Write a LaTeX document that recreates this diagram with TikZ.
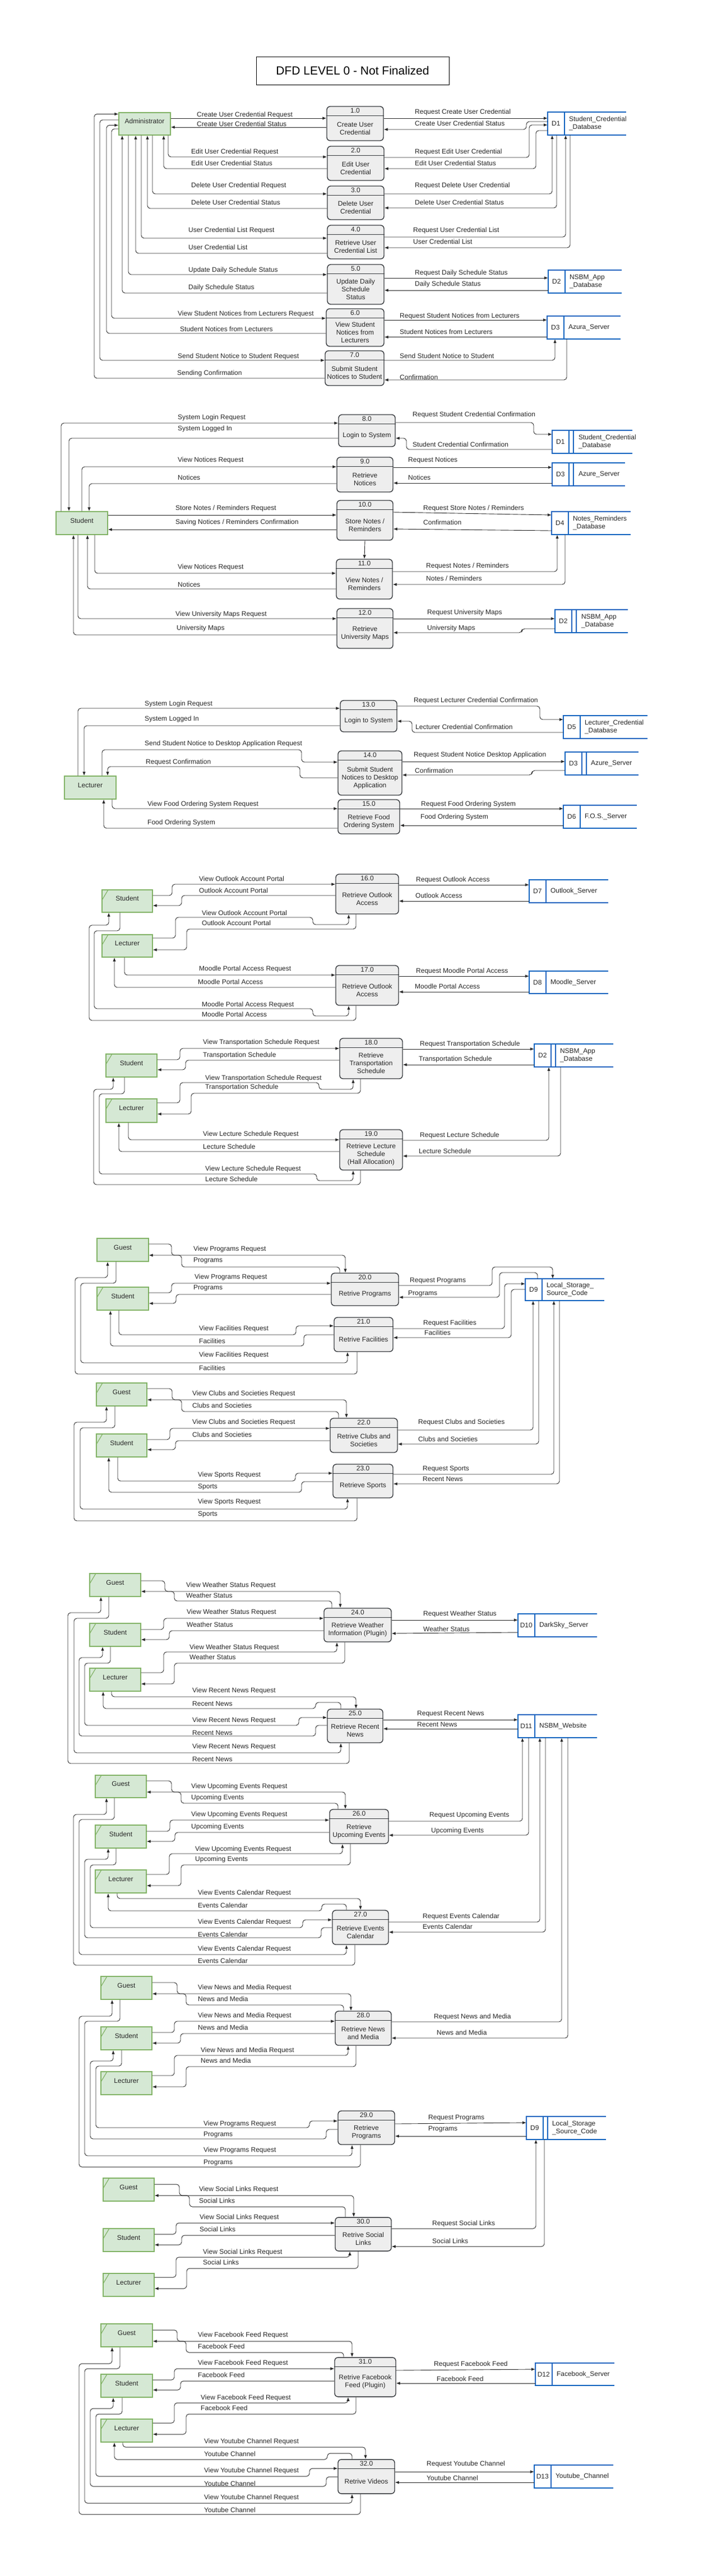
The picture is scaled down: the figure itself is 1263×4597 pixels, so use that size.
\documentclass[tikz,border=0pt]{standalone}
\usepackage{fontspec}
\setmainfont{Liberation Sans}
\usepackage{tikz}
\usetikzlibrary{arrows.meta,fit}
\definecolor{procfill}{HTML}{EEEEEE}
\definecolor{procdraw}{HTML}{36393D}
\definecolor{entfill}{HTML}{D5E8D4}
\definecolor{entdraw}{HTML}{82B366}
\definecolor{storeblue}{HTML}{1565C0}
\tikzstyle{titlebox}=[draw=black, line width=1pt, minimum width=344pt, minimum height=50pt, font=\fontsize{21}{25}\selectfont]
\tikzstyle{process}=[draw=procdraw, fill=procfill, line width=1.4pt, rounded corners=6pt, inner sep=0pt]
\tikzstyle{procline}=[draw=procdraw, line width=1.4pt]
\tikzstyle{proctext}=[font=\fontsize{12}{14}\selectfont, align=center, inner sep=0pt, text=black!85]
\tikzstyle{entity}=[draw=entdraw, fill=entfill, line width=1.4pt, inner sep=0pt, font=\fontsize{12}{14}\selectfont, text=black!85]
\tikzstyle{fold}=[draw=entdraw, line width=1.2pt]
\tikzstyle{store}=[draw=none, inner sep=0pt]
\tikzstyle{storeline}=[draw=storeblue, line width=1.8pt]
\tikzstyle{storetext}=[font=\fontsize{12}{14}\selectfont, align=left, inner sep=0pt, text=black!85]
\tikzstyle{flow}=[draw=black!85, line width=0.9pt, -{Latex[length=7pt,width=5.5pt]}, rounded corners=5pt]
\tikzstyle{lbl}=[font=\fontsize{12}{14}\selectfont, anchor=west, inner sep=0pt, text=black!85]

\begin{document}
\begin{tikzpicture}[x=1pt, y=-1pt]
    \useasboundingbox (0,0) rectangle (1263,4597);
    \node[titlebox] (title) at (629,126) {DFD LEVEL 0 - Not Finalized};

    % First we draw the processes
    \foreach \name/\xa/\ya/\xb/\yb/\num/\txt in {
        p1/583/190/684/251/1.0/{Create User\\Credential},
        p2/584/261/685/322/2.0/{Edit User\\Credential},
        p3/584/332/685/392/3.0/{Delete User\\Credential},
        p4/584/402/685/462/4.0/{Retrieve User\\Credential List},
        p5/584/472/685/543/5.0/{Update Daily\\Schedule\\Status},
        p6/582/551/685/618/6.0/{View Student\\Notices from\\Lecturers},
        p7/580/626/685/688/7.0/{Submit Student\\Notices to Student},
        p8/604/740/705/797/8.0/{Login to System},
        p9/601/816/701/878/9.0/{Retrieve\\Notices},
        p10/601/893/701/964/10.0/{Store Notes /\\Reminders},
        p11/600/998/700/1069/11.0/{View Notes /\\Reminders},
        p12/601/1086/701/1157/12.0/{Retrieve\\University Maps},
        p13/607/1250/708/1306/13.0/{Login to System},
        p14/603/1340/717/1419/14.0/{Submit Student\\Notices to Desktop\\Application},
        p15/603/1427/713/1488/15.0/{Retrieve Food\\Ordering System},
        p16/599/1560/711/1631/16.0/{Retrieve Outlook\\Access},
        p17/599/1723/711/1794/17.0/{Retrieve Outlook\\Access},
        p18/606/1853/718/1925/18.0/{Retrieve\\Transportation\\Schedule},
        p19/606/2016/718/2088/19.0/{Retrieve Lecture\\Schedule\\(Hall Allocation)},
        p20/591/2272/711/2330/20.0/{Retrive Programs},
        p21/596/2351/701/2412/21.0/{Retrive Facilities},
        p22/589/2531/709/2592/22.0/{Retrive Clubs and\\Societies},
        p23/594/2613/701/2673/23.0/{Retrieve Sports},
        p24/578/2870/698/2930/24.0/{Retrieve Weather\\Information (Plugin)},
        p25/584/3050/683/3110/25.0/{Retrieve Recent\\News},
        p26/588/3229/693/3290/26.0/{Retrieve\\Upcoming Events},
        p27/593/3409/693/3470/27.0/{Retrieve Events\\Calendar},
        p28/598/3589/698/3650/28.0/{Retrieve News\\and Media},
        p29/603/3767/704/3827/29.0/{Retrieve\\Programs},
        p30/598/3957/698/4017/30.0/{Retrive Social\\Links},
        p31/597/4207/706/4277/31.0/{Retrive Facebook\\Feed (Plugin)},
        p32/603/4389/704/4450/32.0/{Retrive Videos}}{
        \node[process, fit={(\xa,\ya) (\xb,\yb)}] (\name) {};
        \draw[procline] ([yshift=-17pt]\name.north west) -- ([yshift=-17pt]\name.north east);
        \node[proctext] (\name num) at ([yshift=-8.5pt]\name.north) {\num};
        \node[proctext] (\name txt) at ([yshift=-8.5pt]\name.center) {\txt};
    }

    % Then the external entities
    \foreach \name/\xa/\ya/\xb/\yb/\txt in {admin/212/201/304/241/Administrator,
        stdA/100/913/192/954/Student, lecA/115/1385/207/1426/Lecturer, gstD/173/2210/265/2251/Guest}
        \node[entity, fit={(\xa,\ya) (\xb,\yb)}] (\name) {\txt};

    \foreach \name/\xa/\ya/\xb/\yb/\txt in {
        stdB/182/1588/272/1628/Student, lecB/182/1668/272/1708/Lecturer,
        stdC/189/1881/280/1922/Student, lecC/189/1961/280/2003/Lecturer,
        stdD/173/2297/265/2338/Student,
        gstE/172/2468/262/2509/Guest, stdE/172/2559/262/2600/Student,
        gstF/160/2808/251/2849/Guest, stdF/160/2897/251/2938/Student, lecF/160/2977/251/3018/Lecturer,
        gstG/170/3168/261/3208/Guest, stdG/170/3257/261/3298/Student, lecG/170/3337/261/3378/Lecturer,
        gstH/180/3527/271/3568/Guest, stdH/180/3617/271/3658/Student, lecH/180/3697/271/3738/Lecturer,
        gstI/184/3887/275/3928/Guest, stdI/184/3977/275/4018/Student, lecI/184/4057/275/4098/Lecturer,
        gstJ/180/4147/272/4188/Guest, stdJ/180/4237/272/4278/Student, lecJ/180/4317/272/4358/Lecturer}{
        \node[entity, fit={(\xa,\ya) (\xb,\yb)}] (\name) {\txt};
        \draw[fold] ([xshift=12pt]\name.north west) -- ([yshift=-20pt]\name.north west);
    }

    % And the data stores
    \foreach \name/\xa/\ya/\xb/\yb/\dx/\id/\txt in {
        sA1/977/200/1117/241/38/D1/{Student\_Credential\\\_Database},
        sA2/978/482/1109/523/38/D2/{NSBM\_App\\\_Database},
        sA3/976/564/1107/605/38/D3/{Azura\_Server},
        sB1/985/768/1128/809/47/D1/{Student\_Credential\\\_Database},
        sB3/985/826/1115/867/47/D3/{Azure\_Server},
        sB4/984/913/1125/954/38/D4/{Notes\_Reminders\\\_Database},
        sB2/990/1088/1120/1129/47/D2/{NSBM\_App\\\_Database},
        sC5/1005/1277/1155/1318/38/D5/{Lecturer\_Credential\\\_Database},
        sC3/1008/1342/1139/1383/46/D3/{Azure\_Server},
        sC6/1005/1437/1136/1478/38/D6/{F.O.S.\_Server},
        sD7/944/1570/1085/1611/38/D7/{Outlook\_Server},
        sD8/944/1733/1085/1773/38/D8/{Moodle\_Server},
        sE2/953/1863/1094/1904/46/D2/{NSBM\_App\\\_Database},
        sF9/937/2282/1078/2321/38/D9/{Local\_Storage\_\\Source\_Code},
        sG10/924/2880/1065/2921/38/D10/{DarkSky\_Server},
        sG11/924/3060/1065/3101/38/D11/{NSBM\_Website},
        sH9/939/3777/1081/3818/46/D9/{Local\_Storage\\\_Source\_Code},
        sJ12/955/4217/1096/4257/38/D12/{Facebook\_Server},
        sJ13/953/4399/1094/4440/38/D13/{Youtube\_Channel}}{
        \node[store, fit={(\xa,\ya) (\xb,\yb)}] (\name) {};
        \draw[storeline] (\name.north east) -- (\name.north west) -- (\name.south west) -- (\name.south east);
        \draw[storeline] ([xshift=30pt]\name.north west) -- ([xshift=30pt]\name.south west);
        \node[storetext] (\name id) at ([xshift=15pt]\name.west) {\id};
        \node[storetext, anchor=west] (\name txt) at ([xshift=\dx pt]\name.west) {\txt};
    }
    % some stores carry a second divider
    \foreach \name in {sB1, sB3, sB2, sC3, sE2, sH9}
        \draw[storeline] ([xshift=38pt]\name.north west) -- ([xshift=38pt]\name.south west);

    % Administrator flows
    \draw[flow] (admin.east |- 0,211) -- (p1.west |- 0,211);
    \draw[flow] (p1.west |- 0,227) -- (admin.east |- 0,227);
    \draw[flow] (p1.east |- 0,211) -- (sA1.west |- 0,211);
    \draw[flow] (sA1.west |- 0,217) -| (939,231) -- (p1.east |- 0,231);
    \draw[flow] (300,0 |- admin.south) |- (p2.west |- 0,280);
    \draw[flow] (p2.west |- 0,301) -| (292,0 |- admin.south);
    \draw[flow] (p2.east |- 0,281) -| (944,223) -- (sA1.west |- 0,223);
    \draw[flow] (sA1.west |- 0,233) -| (956,301) -- (p2.east |- 0,301);
    \draw[flow] (272,0 |- admin.south) |- (p3.west |- 0,346);
    \draw[flow] (p3.west |- 0,372) -| (263,0 |- admin.south);
    \draw[flow] (p3.east |- 0,346) -| (985,0 |- sA1.south);
    \draw[flow] (993,0 |- sA1.south) |- (p3.east |- 0,371);
    \draw[flow] (252,0 |- admin.south) |- (p4.west |- 0,425);
    \draw[flow] (p4.west |- 0,452) -| (242,0 |- admin.south);
    \draw[flow] (p4.east |- 0,423) -| (1009,0 |- sA1.south);
    \draw[flow] (1017,0 |- sA1.south) |- (p4.east |- 0,442);
    \draw[flow] (229,0 |- admin.south) |- (p5.west |- 0,490);
    \draw[flow] (p5.west |- 0,523) -| (218,0 |- admin.south);
    \draw[flow] (p5.east |- 0,496) -- (sA2.west |- 0,496);
    \draw[flow] (sA2.west |- 0,518) -- (p5.east |- 0,518);
    \draw[flow] (admin.west |- 0,230) -| (199,568) -- (p6.west |- 0,568);
    \draw[flow] (p6.west |- 0,595) -| (190,223.5) -- (admin.west |- 0,223.5);
    \draw[flow] (admin.west |- 0,214) -| (178,643) -- (p7.west |- 0,643);
    \draw[flow] (p7.west |- 0,675) -| (168,203.5) -- (admin.west |- 0,203.5);
    \draw[flow] (p6.east |- 0,571) -- (sA3.west |- 0,571);
    \draw[flow] (sA3.west |- 0,601.5) -- (p6.east |- 0,601.5);
    \draw[flow] (p7.east |- 0,643) -| (990,0 |- sA3.south);
    \draw[flow] (1011,0 |- sA3.south) |- (p7.east |- 0,678);

    \foreach \pos/\txt [count=\i] in {{(351,205)/Create User Credential Request}, {(351,221)/Create User Credential Status},
        {(341,271)/Edit User Credential Request}, {(341,291)/Edit User Credential Status},
        {(341,331)/Delete User Credential Request}, {(341,361)/Delete User Credential Status},
        {(336,411)/User Credential List Request}, {(336,441)/User Credential List},
        {(336,482)/Update Daily Schedule Status}, {(336,513)/Daily Schedule Status},
        {(317,560)/View Student Notices from Lecturers Request}, {(321,587)/Student Notices from Lecturers},
        {(317,636)/Send Student Notice to Student Request}, {(316,666)/Sending Confirmation},
        {(740,200)/Request Create User Credential}, {(740,220)/Create User Credential Status},
        {(740,271)/Request Edit User Credential}, {(740,291)/Edit User Credential Status},
        {(740,331)/Request Delete User Credential}, {(740,361)/Delete User Credential Status},
        {(737,411)/Request User Credential List}, {(737,431)/User Credential List},
        {(740,487)/Request Daily Schedule Status}, {(740,507)/Daily Schedule Status},
        {(713,564)/Request Student Notices from Lecturers}, {(713,592)/Student Notices from Lecturers},
        {(713,635)/Send Student Notice to Student}, {(713,673)/Confirmation}}
        \node[lbl] (la\i) at \pos {\txt};

    % Student flows
    \draw[flow] (109,0 |- stdA.north) |- (p8.west |- 0,755);
    \draw[flow] (p8.west |- 0,782) -| (123,0 |- stdA.north);
    \draw[flow] (146,0 |- stdA.north) |- (p9.west |- 0,833);
    \draw[flow] (p9.west |- 0,863) -| (159,0 |- stdA.north);
    \draw[flow] (stdA.east |- 0,919) -- (p10.west |- 0,919);
    \draw[flow] (p10.west |- 0,945) -- (stdA.east |- 0,945);
    \draw[flow] (169,0 |- stdA.south) |- (p11.west |- 0,1023);
    \draw[flow] (p11.west |- 0,1051) -| (156,0 |- stdA.south);
    \draw[flow] (139,0 |- stdA.south) |- (p12.west |- 0,1104);
    \draw[flow] (p12.west |- 0,1133) -| (131,0 |- stdA.south);
    \draw[flow] (p10.south) -- (p11.north);
    \draw[flow] (p8.east |- 0,754) -| (952,775) -- (sB1.west |- 0,775);
    \draw[flow] (sB1.west |- 0,802) -| (725,782) -- (p8.east |- 0,782);
    \draw[flow] (p9.east |- 0,834) -- (sB3.west |- 0,834);
    \draw[flow] (sB3.west |- 0,862) -- (p9.east |- 0,862);
    \draw[flow] (p10.east |- 0,914) -- (sB4.west |- 0,919);
    \draw[flow] (sB4.west |- 0,947) -- (p10.east |- 0,944);
    \draw[flow] (p11.east |- 0,1020) -| (994,0 |- sB4.south);
    \draw[flow] (1008,0 |- sB4.south) |- (p11.east |- 0,1043);
    \draw[flow] (p12.east |- 0,1104) -- (sB2.west |- 0,1104);
    \draw[flow] (sB2.west |- 0,1122) -| (931,1129) -- (p12.east |- 0,1129);

    \foreach \pos/\txt [count=\i] in {{(317,745)/System Login Request}, {(317,765)/System Logged In},
        {(317,821)/View Notices Request}, {(317,852)/Notices},
        {(313,907)/{Store Notes / Reminders Request}}, {(313,932)/{Saving Notices / Reminders Confirmation}},
        {(317,1012)/View Notices Request}, {(317,1043)/Notices},
        {(313,1096)/View University Maps Request}, {(315,1121)/University Maps},
        {(736,740)/Request Student Credential Confirmation}, {(736,793)/Student Credential Confirmation},
        {(728,821)/Request Notices}, {(728,852)/Notices},
        {(755,907)/{Request Store Notes / Reminders}}, {(755,932)/Confirmation},
        {(760,1010)/{Request Notes / Reminders}}, {(760,1032)/{Notes / Reminders}},
        {(762,1093)/Request University Maps}, {(762,1121)/University Maps}}
        \node[lbl] (lb\i) at \pos {\txt};

    % Lecturer flows
    \draw[flow] (139,0 |- lecA.north) |- (p13.west |- 0,1264);
    \draw[flow] (p13.west |- 0,1295) -| (150,0 |- lecA.north);
    \draw[flow] (182,0 |- lecA.north) |- (538,1338) |- (p14.west |- 0,1360);
    \draw[flow] (p14.west |- 0,1388) -| (535,1368) -| (192,0 |- lecA.north);
    \draw[flow] (200,0 |- lecA.south) |- (p15.west |- 0,1443);
    \draw[flow] (p15.west |- 0,1478) -| (185,0 |- lecA.south);
    \draw[flow] (p13.east |- 0,1260) -| (963,1284) -- (sC5.west |- 0,1284);
    \draw[flow] (sC5.west |- 0,1307) -| (735,1287) -- (p13.east |- 0,1287);
    \draw[flow] (p14.east |- 0,1359) -- (sC3.west |- 0,1359);
    \draw[flow] (sC3.west |- 0,1375) -| (949,1383) -- (p14.east |- 0,1383);
    \draw[flow] (p15.east |- 0,1443) -- (sC6.west |- 0,1443);
    \draw[flow] (sC6.west |- 0,1473) -- (p15.east |- 0,1473);

    \foreach \pos/\txt [count=\i] in {{(258,1256)/System Login Request}, {(258,1283)/System Logged In},
        {(258,1327)/Send Student Notice to Desktop Application Request}, {(260,1360)/Request Confirmation},
        {(263,1435)/View Food Ordering System Request}, {(263,1468)/Food Ordering System},
        {(738,1250)/Request Lecturer Credential Confirmation}, {(741,1297)/Lecturer Credential Confirmation},
        {(738,1347)/Request Student Notice Desktop Application}, {(740,1375)/Confirmation},
        {(751,1435)/Request Food Ordering System}, {(750,1458)/Food Ordering System}}
        \node[lbl] (lc\i) at \pos {\txt};

    % Outlook and Moodle flows
    \draw[flow] (stdB.east |- 0,1598) -| (307,1578) -- (p16.west |- 0,1578);
    \draw[flow] (p16.west |- 0,1598) -| (324,1616) -- (stdB.east |- 0,1616);
    \draw[flow] (lecB.east |- 0,1674) -| (313,1637) -| (558,1650) -| (622,0 |- p16.south);
    \draw[flow] (635,0 |- p16.south) |- (333,1658) |- (lecB.east |- 0,1695);
    \draw[flow] (p16.east |- 0,1579) -- (sD7.west |- 0,1579);
    \draw[flow] (sD7.west |- 0,1608) -- (p16.east |- 0,1608);
    \draw[flow] (222,0 |- lecB.south) |- (p17.west |- 0,1740);
    \draw[flow] (p17.west |- 0,1762) -| (204,0 |- lecB.south);
    \draw[flow] (214,0 |- stdB.south) |- (168,1661) |- (558,1800) |- (622,1813) -- (622,0 |- p17.south);
    \draw[flow] (635,0 |- p17.south) |- (159,1821) |- (194,1651) -- (194,0 |- stdB.south);
    \draw[flow] (p17.east |- 0,1742) -- (sD8.west |- 0,1742);
    \draw[flow] (sD8.west |- 0,1770) -- (p17.east |- 0,1770);

    \foreach \pos/\txt [count=\i] in {{(355,1568)/View Outlook Account Portal}, {(355,1589)/Outlook Account Portal},
        {(360,1629)/View Outlook Account Portal}, {(360,1647)/Outlook Account Portal},
        {(742,1570)/Request Outlook Access}, {(741,1598)/Outlook Access},
        {(355,1729)/Moodle Portal Access Request}, {(353,1752)/Moodle Portal Access},
        {(360,1793)/Moodle Portal Access Request}, {(360,1810)/Moodle Portal Access},
        {(742,1733)/Request Moodle Portal Access}, {(740,1760)/Moodle Portal Access}}
        \node[lbl] (ld\i) at \pos {\txt};

    % Transportation and lecture schedule flows
    \draw[flow] (stdC.east |- 0,1891) -| (321,1871) -- (p18.west |- 0,1871);
    \draw[flow] (p18.west |- 0,1892) -| (331,1909) -- (stdC.east |- 0,1909);
    \draw[flow] (lecC.east |- 0,1968) -| (321,1932) -| (569,1944) -| (630,0 |- p18.south);
    \draw[flow] (643,0 |- p18.south) |- (341,1951) |- (lecC.east |- 0,1988);
    \draw[flow] (229,0 |- lecC.south) |- (p19.west |- 0,2034);
    \draw[flow] (p19.west |- 0,2055) -| (212,0 |- lecC.south);
    \draw[flow] (222,0 |- stdC.south) |- (177,1952) |- (565,2095) |- (630,2107) -- (630,0 |- p19.south);
    \draw[flow] (643,0 |- p19.south) |- (167,2114) |- (202,1944) -- (202,0 |- stdC.south);
    \draw[flow] (p18.east |- 0,1872) -- (sE2.west |- 0,1872);
    \draw[flow] (sE2.west |- 0,1900) -- (p18.east |- 0,1900);
    \draw[flow] (p19.east |- 0,2035) -| (979,0 |- sE2.south);
    \draw[flow] (1000,0 |- sE2.south) |- (p19.east |- 0,2063);

    \foreach \pos/\txt [count=\i] in {{(362,1860)/View Transportation Schedule Request}, {(362,1883)/Transportation Schedule},
        {(366,1924)/View Transportation Schedule Request}, {(366,1940)/Transportation Schedule},
        {(362,2024)/View Lecture Schedule Request}, {(362,2046)/Lecture Schedule},
        {(366,2086)/View Lecture Schedule Request}, {(366,2104)/Lecture Schedule},
        {(749,1863)/Request Transportation Schedule}, {(747,1890)/Transportation Schedule},
        {(749,2026)/Request Lecture Schedule}, {(747,2054)/Lecture Schedule}}
        \node[lbl] (le\i) at \pos {\txt};

    % Programs, facilities, clubs and sports flows
    \draw[flow] (gstD.east |- 0,2220) -| (306,2240) -| (616,0 |- p20.north);
    \draw[flow] (606,0 |- p20.north) |- (324,2261) |- (gstD.east |- 0,2240);
    \draw[flow] (stdD.east |- 0,2307) -| (306,2290) -- (p20.west |- 0,2290);
    \draw[flow] (p20.west |- 0,2310) -| (314,2326) -- (stdD.east |- 0,2326);
    \draw[flow] (212,0 |- stdD.south) |- (528,2382) |- (p21.west |- 0,2366);
    \draw[flow] (p21.west |- 0,2382) -| (542,2402) -| (197,0 |- stdD.south);
    \draw[flow] (207,0 |- gstD.south) |- (144,2290) |- (620,2432) -- (620,0 |- p21.south);
    \draw[flow] (637,0 |- p21.south) |- (134,2452) |- (192,2280) -- (192,0 |- gstD.south);
    \draw[flow] (p20.east |- 0,2294) -| (878,2261) -| (986,0 |- sF9.north);
    \draw[flow] (959,0 |- sF9.north) |- (891,2271) |- (p20.east |- 0,2315);
    \draw[flow] (p21.east |- 0,2371) -| (900,2291) -- (sF9.west |- 0,2291);
    \draw[flow] (sF9.west |- 0,2301) -| (912,2387) -- (p21.east |- 0,2387);
    \draw[flow] (gstE.east |- 0,2478) -| (307,2498) -| (618,0 |- p22.north);
    \draw[flow] (604,0 |- p22.north) |- (324,2519) |- (gstE.east |- 0,2498);
    \draw[flow] (stdE.east |- 0,2569) -| (303,2549) -- (p22.west |- 0,2549);
    \draw[flow] (p22.west |- 0,2571) -| (313,2587) -- (stdE.east |- 0,2587);
    \draw[flow] (210,0 |- stdE.south) |- (527,2643) |- (p23.west |- 0,2629);
    \draw[flow] (p23.west |- 0,2644) -| (538,2663) -| (194,0 |- stdE.south);
    \draw[flow] (205,0 |- gstE.south) |- (143,2548) |- (620,2693) -- (620,0 |- p23.south);
    \draw[flow] (637,0 |- p23.south) |- (132,2714) |- (190,2538) -- (190,0 |- gstE.south);
    \draw[flow] (p22.east |- 0,2552) -| (951,0 |- sF9.south);
    \draw[flow] (961,0 |- sF9.south) |- (p22.east |- 0,2577);
    \draw[flow] (p23.east |- 0,2631) -| (988,0 |- sF9.south);
    \draw[flow] (998,0 |- sF9.south) |- (p23.east |- 0,2648);

    \foreach \pos/\txt [count=\i] in {{(345,2229)/View Programs Request}, {(345,2250)/Programs},
        {(347,2279)/View Programs Request}, {(345,2299)/Programs},
        {(355,2371)/View Facilities Request}, {(355,2393)/Facilities},
        {(355,2418)/View Facilities Request}, {(355,2441)/Facilities},
        {(731,2286)/Request Programs}, {(728,2309)/Programs},
        {(755,2361)/Request Facilities}, {(757,2378)/Facilities},
        {(343,2487)/View Clubs and Societies Request}, {(343,2508)/Clubs and Societies},
        {(343,2538)/View Clubs and Societies Request}, {(343,2560)/Clubs and Societies},
        {(353,2632)/View Sports Request}, {(353,2654)/Sports},
        {(353,2680)/View Sports Request}, {(353,2703)/Sports},
        {(746,2538)/Request Clubs and Societies}, {(746,2568)/Clubs and Societies},
        {(754,2622)/Request Sports}, {(754,2639)/Recent News}}
        \node[lbl] (lf\i) at \pos {\txt};

    % Weather and recent news flows
    \draw[flow] (gstF.east |- 0,2821) -| (294,2840) -| (607,0 |- p24.north);
    \draw[flow] (592,0 |- p24.north) |- (311,2857) |- (gstF.east |- 0,2840);
    \draw[flow] (stdF.east |- 0,2908) -| (292,2888) -- (p24.west |- 0,2888);
    \draw[flow] (p24.west |- 0,2910) -| (302,2926) -- (stdF.east |- 0,2926);
    \draw[flow] (lecF.east |- 0,2985) -| (292,2948) -| (601,0 |- p24.south);
    \draw[flow] (615,0 |- p24.south) |- (311,2968) |- (lecF.east |- 0,3005);
    \draw[flow] (199,0 |- lecF.south) |- (635,3028) -- (635,0 |- p25.north);
    \draw[flow] (608,0 |- p25.north) |- (563,3038) |- (184,3049) -- (184,0 |- lecF.south);
    \draw[flow] (197,0 |- stdF.south) |- (151,2968) |- (533,3079) |- (p25.west |- 0,3065);
    \draw[flow] (p25.west |- 0,3079) -| (563,3098) -| (141,2958) -| (183,0 |- stdF.south);
    \draw[flow] (194,0 |- gstF.south) |- (132,2888) |- (608,3128) -- (608,0 |- p25.south);
    \draw[flow] (623,0 |- p25.south) |- (121,3147) |- (180,2878) -- (180,0 |- gstF.south);
    \draw[flow] (p24.east |- 0,2891) -- (sG10.west |- 0,2891);
    \draw[flow] (sG10.west |- 0,2913) -- (p24.east |- 0,2915);
    \draw[flow] (p25.east |- 0,3069) -- (sG11.west |- 0,3069);
    \draw[flow] (sG11.west |- 0,3085) -- (p25.east |- 0,3085);

    \foreach \pos/\txt [count=\i] in {{(332,2829)/View Weather Status Request}, {(332,2847)/Weather Status},
        {(333,2877)/View Weather Status Request}, {(333,2899)/Weather Status},
        {(338,2940)/View Weather Status Request}, {(338,2957)/Weather Status},
        {(343,3017)/View Recent News Request}, {(343,3040)/Recent News},
        {(343,3070)/View Recent News Request}, {(343,3092)/Recent News},
        {(343,3117)/View Recent News Request}, {(343,3139)/Recent News},
        {(755,2880)/Request Weather Status}, {(755,2907)/Weather Status},
        {(744,3059)/Request Recent News}, {(744,3077)/Recent News}}
        \node[lbl] (lg\i) at \pos {\txt};

    % Upcoming events and events calendar flows
    \draw[flow] (gstG.east |- 0,3178) -| (306,3198) -| (616,0 |- p26.north);
    \draw[flow] (603,0 |- p26.north) |- (323,3218) |- (gstG.east |- 0,3198);
    \draw[flow] (stdG.east |- 0,3268) -| (303,3248) -- (p26.west |- 0,3248);
    \draw[flow] (p26.west |- 0,3270) -| (312,3286) -- (stdG.east |- 0,3286);
    \draw[flow] (lecG.east |- 0,3345) -| (302,3308) -| (611,0 |- p26.south);
    \draw[flow] (625,0 |- p26.south) |- (323,3328) |- (lecG.east |- 0,3365);
    \draw[flow] (209,0 |- lecG.south) |- (643,3388) -- (643,0 |- p27.north);
    \draw[flow] (618,0 |- p27.north) |- (574,3398) |- (193,3410) -- (193,0 |- lecG.south);
    \draw[flow] (207,0 |- stdG.south) |- (161,3328) |- (540,3440) |- (p27.west |- 0,3426);
    \draw[flow] (p27.west |- 0,3440) -| (573,3458) -| (151,3318) -| (193,0 |- stdG.south);
    \draw[flow] (204,0 |- gstG.south) |- (141,3247) |- (618,3488) -- (618,0 |- p27.south);
    \draw[flow] (633,0 |- p27.south) |- (131,3507) |- (190,3238) -- (190,0 |- gstG.south);
    \draw[flow] (p26.east |- 0,3250) -| (932,0 |- sG11.south);
    \draw[flow] (943,0 |- sG11.south) |- (p26.east |- 0,3275);
    \draw[flow] (p27.east |- 0,3430) -| (963,0 |- sG11.south);
    \draw[flow] (973,0 |- sG11.south) |- (p27.east |- 0,3448);
    \draw[flow] (p28.east |- 0,3608) -| (1002,0 |- sG11.south);
    \draw[flow] (1013,0 |- sG11.south) |- (p28.east |- 0,3637);

    \foreach \pos/\txt [count=\i] in {{(341,3188)/View Upcoming Events Request}, {(341,3208)/Upcoming Events},
        {(341,3238)/View Upcoming Events Request}, {(341,3260)/Upcoming Events},
        {(348,3300)/View Upcoming Events Request}, {(348,3318)/Upcoming Events},
        {(353,3378)/View Events Calendar Request}, {(353,3400)/Events Calendar},
        {(353,3430)/View Events Calendar Request}, {(353,3452)/Events Calendar},
        {(353,3478)/View Events Calendar Request}, {(353,3499)/Events Calendar},
        {(766,3239)/Request Upcoming Events}, {(769,3267)/Upcoming Events},
        {(754,3420)/Request Events Calendar}, {(754,3438)/Events Calendar},
        {(774,3599)/Request News and Media}, {(779,3627)/News and Media}}
        \node[lbl] (lh\i) at \pos {\txt};

    % News and media, programs flows
    \draw[flow] (gstH.east |- 0,3538) -| (316,3558) -| (626,0 |- p28.north);
    \draw[flow] (613,0 |- p28.north) |- (332,3578) |- (gstH.east |- 0,3558);
    \draw[flow] (stdH.east |- 0,3627) -| (311,3607) -- (p28.west |- 0,3607);
    \draw[flow] (p28.west |- 0,3629) -| (322,3646) -- (stdH.east |- 0,3646);
    \draw[flow] (lecH.east |- 0,3704) -| (311,3668) -| (621,0 |- p28.south);
    \draw[flow] (635,0 |- p28.south) |- (332,3688) |- (lecH.east |- 0,3724);
    \draw[flow] (217,0 |- stdH.south) |- (171,3687) |- (552,3797) |- (p29.west |- 0,3785);
    \draw[flow] (p29.west |- 0,3800) -| (582,3817) -| (161,3678) -| (202,0 |- stdH.south);
    \draw[flow] (214,0 |- gstH.south) |- (151,3607) |- (628,3847) -- (628,0 |- p29.south);
    \draw[flow] (643,0 |- p29.south) |- (141,3867) |- (200,3598) -- (200,0 |- gstH.south);
    \draw[flow] (p29.east |- 0,3790) -- (sH9.west |- 0,3788);
    \draw[flow] (sH9.west |- 0,3812) -- (p29.east |- 0,3812);
    \draw[flow] (p30.east |- 0,3977) -| (956,0 |- sH9.south);
    \draw[flow] (971,0 |- sH9.south) |- (p30.east |- 0,4009);

    \foreach \pos/\txt [count=\i] in {{(353,3547)/View News and Media Request}, {(353,3567)/News and Media},
        {(353,3597)/View News and Media Request}, {(353,3618)/News and Media},
        {(358,3659)/View News and Media Request}, {(358,3677)/News and Media},
        {(363,3790)/View Programs Request}, {(363,3810)/Programs},
        {(363,3837)/View Programs Request}, {(363,3860)/Programs},
        {(764,3780)/Request Programs}, {(764,3800)/Programs},
        {(771,3968)/Request Social Links}, {(771,3999)/Social Links}}
        \node[lbl] (li\i) at \pos {\txt};

    % Social links flows
    \draw[flow] (gstI.east |- 0,3898) -| (320,3918) -| (631,0 |- p30.north);
    \draw[flow] (616,0 |- p30.north) |- (338,3938) |- (gstI.east |- 0,3918);
    \draw[flow] (stdI.east |- 0,3987) -| (314,3967) -- (p30.west |- 0,3967);
    \draw[flow] (p30.west |- 0,3989) -| (324,4006) -- (stdI.east |- 0,4006);
    \draw[flow] (lecI.east |- 0,4064) -| (314,4028) -| (624,0 |- p30.south);
    \draw[flow] (639,0 |- p30.south) |- (333,4048) |- (lecI.east |- 0,4084);

    \foreach \pos/\txt [count=\i] in {{(355,3907)/View Social Links Request}, {(355,3927)/Social Links},
        {(356,3957)/View Social Links Request}, {(356,3978)/Social Links},
        {(362,4019)/View Social Links Request}, {(362,4037)/Social Links}}
        \node[lbl] (lj\i) at \pos {\txt};

    % Facebook and Youtube flows
    \draw[flow] (gstJ.east |- 0,4158) -| (316,4178) -| (628,0 |- p31.north);
    \draw[flow] (613,0 |- p31.north) |- (332,4198) |- (gstJ.east |- 0,4178);
    \draw[flow] (stdJ.east |- 0,4247) -| (311,4227) -- (p31.west |- 0,4227);
    \draw[flow] (p31.west |- 0,4249) -| (322,4265) -- (stdJ.east |- 0,4265);
    \draw[flow] (lecJ.east |- 0,4324) -| (311,4288) -| (621,0 |- p31.south);
    \draw[flow] (635,0 |- p31.south) |- (332,4308) |- (lecJ.east |- 0,4344);
    \draw[flow] (219,0 |- lecJ.south) |- (652,4367) -- (652,0 |- p32.north);
    \draw[flow] (628,0 |- p32.north) |- (584,4378) |- (204,4389) -- (204,0 |- lecJ.south);
    \draw[flow] (218,0 |- stdJ.south) |- (171,4308) |- (552,4419) |- (p32.west |- 0,4405);
    \draw[flow] (p32.west |- 0,4420) -| (582,4437) -| (161,4298) -| (202,0 |- stdJ.south);
    \draw[flow] (214,0 |- gstJ.south) |- (151,4227) |- (628,4467) -- (628,0 |- p32.south);
    \draw[flow] (643,0 |- p32.south) |- (141,4487) |- (200,4218) -- (200,0 |- gstJ.south);
    \draw[flow] (p31.east |- 0,4230) -- (sJ12.west |- 0,4228);
    \draw[flow] (sJ12.west |- 0,4253) -- (p31.east |- 0,4253);
    \draw[flow] (p32.east |- 0,4411) -- (sJ13.west |- 0,4411);
    \draw[flow] (sJ13.west |- 0,4430) -- (p32.east |- 0,4430);

    \foreach \pos/\txt [count=\i] in {{(353,4167)/View Facebook Feed Request}, {(353,4187)/Facebook Feed},
        {(353,4217)/View Facebook Feed Request}, {(353,4238)/Facebook Feed},
        {(358,4279)/View Facebook Feed Request}, {(358,4297)/Facebook Feed},
        {(364,4357)/View Youtube Channel Request}, {(364,4379)/Youtube Channel},
        {(364,4409)/View Youtube Channel Request}, {(364,4432)/Youtube Channel},
        {(364,4457)/View Youtube Channel Request}, {(364,4479)/Youtube Channel},
        {(774,4219)/Request Facebook Feed}, {(779,4245)/Facebook Feed},
        {(761,4397)/Request Youtube Channel}, {(761,4422)/Youtube Channel}}
        \node[lbl] (lk\i) at \pos {\txt};
\end{tikzpicture}
\end{document}
